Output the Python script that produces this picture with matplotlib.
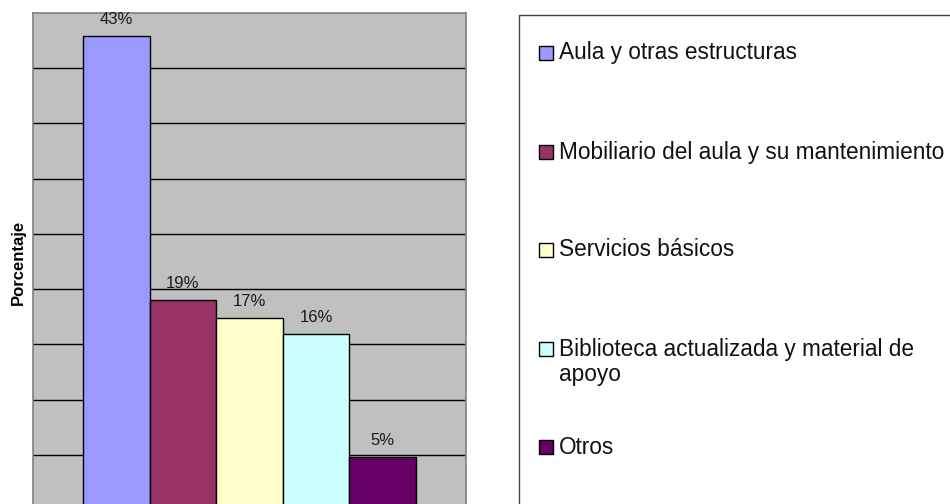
import matplotlib
matplotlib.use('Agg')
import matplotlib.pyplot as plt
from matplotlib.patches import Rectangle

plt.rcParams['font.family'] = ['Liberation Sans', 'DejaVu Sans']

# data (percent)
categorias = ['Aula y otras estructuras',
              'Mobiliario del aula y su mantenimiento',
              'Servicios básicos',
              'Biblioteca actualizada y material de\napoyo',
              'Otros']
valores = [42.9, 19.0, 17.4, 15.9, 4.8]
etiquetas = ['43%', '19%', '17%', '16%', '5%']
colores = ['#9999FF', '#993366', '#FFFFCC', '#CCFFFF', '#660066']

W, H = 950, 504
fig = plt.figure(figsize=(W / 100, H / 100), dpi=100)

# plot area runs below the bottom edge of the picture (cropped like the original)
left, right, top, zero = 33, 466, 13, 510
ax = fig.add_axes([left / W, 1 - zero / H, (right - left) / W, (zero - top) / H])
ax.set_facecolor('#C0C0C0')

x = list(range(len(valores)))
bars = ax.bar(x, valores, width=1.0, color=colores, edgecolor='black', linewidth=1, zorder=3)
for b, lab in zip(bars, etiquetas):
    ax.annotate(lab, (b.get_x() + b.get_width() / 2, b.get_height()),
                xytext=(0, 12), textcoords='offset points',
                ha='center', va='center', fontsize=12, color='#1a1a1a')

ax.set_xlim(-1.25, 5.25)
ax.set_ylim(0, 45)
ax.set_yticks(range(5, 45, 5))
ax.yaxis.grid(True, color='black', linewidth=1)
ax.set_axisbelow(True)
ax.tick_params(left=False, bottom=False, labelleft=False, labelbottom=False)
for s in ax.spines.values():
    s.set_color('#808080')
    s.set_linewidth(1.2)

fig.text(18 / W, 1 - 262 / H, 'Porcentaje', rotation=90, fontsize=12,
         fontweight='bold', ha='center', va='center')

# legend box, also cropped on the right and bottom
fig.patches.append(Rectangle((519 / W, -0.1), 0.6, 1 - 15 / H + 0.1,
                             transform=fig.transFigure, facecolor='white',
                             edgecolor='#404040', linewidth=1))
fila_y = [53, 152, 250, 349, 447]
line_h = 26
for cat, col, yy in zip(categorias, colores, fila_y):
    fig.patches.append(Rectangle((539 / W, 1 - (yy + 7) / H), 14 / W, 14 / H,
                                 transform=fig.transFigure, facecolor=col,
                                 edgecolor='black', linewidth=1))
    n = cat.count('\n')
    fig.text(559 / W, 1 - (yy + n * line_h / 2) / H, cat, fontsize=16.3,
             ha='left', va='center', linespacing=1.15, color='#111111')

fig.savefig('out.png', dpi=100)
